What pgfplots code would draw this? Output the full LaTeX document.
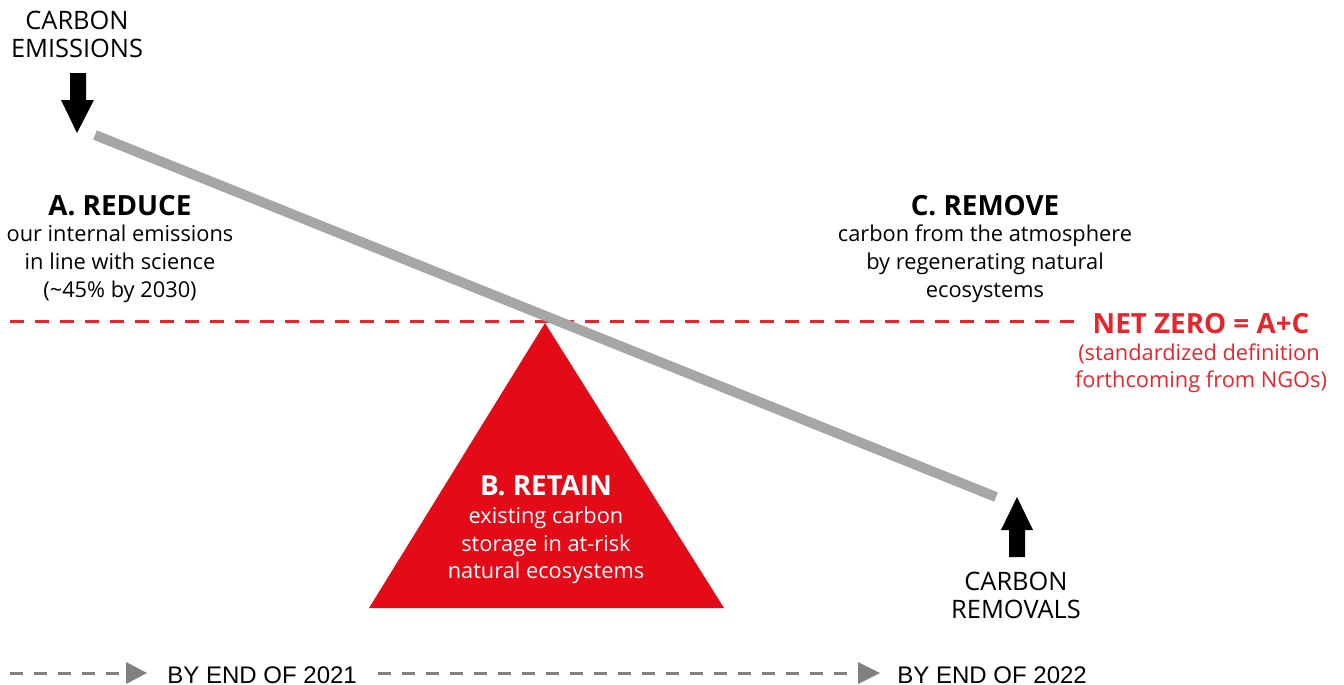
\documentclass[border=0pt]{standalone}
\usepackage{pgfplots}
\pgfplotsset{compat=1.18}
\usepackage{fontspec}
\setmainfont{Open Sans}
\newfontfamily\bottomfont{Liberation Sans}
\definecolor{tri}{HTML}{E30B17}
\definecolor{nz}{HTML}{E5262D}
\definecolor{beam}{HTML}{A6A6A6}
\definecolor{tlgray}{HTML}{808080}
\newcommand{\bodyf}{\fontsize{10.9}{14}\selectfont}
\newcommand{\headf}{\fontsize{13.9}{14}\selectfont\bfseries}
\newcommand{\capf}{\fontsize{12.7}{14}\selectfont}
\begin{document}
\begin{tikzpicture}
\begin{axis}[width=672pt,height=342.5pt,scale only axis,
  xmin=0,xmax=1344,ymin=0,ymax=685,y dir=reverse,
  axis lines=none,clip=false]
\addplot[draw=none] coordinates {(0,0)(1344,685)};
% triangle
\addplot[fill=tri,draw=none] coordinates {(545,323)(369,608)(724,608)} -- cycle;
% red dashed net zero line
\addplot[nz,line width=1.5pt,dash pattern=on 7pt off 5.5pt] coordinates {(10,321)(1075,321)};
% beam
\addplot[beam,line width=5pt] coordinates {(95,135)(996,497)};
% down arrow
\addplot[fill=black,draw=none] coordinates {(70,73)(86,73)(86,100)(94,100)(77,133)(61,100)(70,100)} -- cycle;
% up arrow
\addplot[fill=black,draw=none] coordinates {(1009,557)(1025,557)(1025,530)(1033,530)(1017,497)(1001,530)(1009,530)} -- cycle;
% bottom timeline
\addplot[tlgray,line width=1.5pt,dash pattern=on 6.5pt off 5.5pt] coordinates {(10,673)(126,673)};
\addplot[fill=tlgray,draw=none] coordinates {(126,662)(147,673)(126,684)} -- cycle;
\addplot[tlgray,line width=1.5pt,dash pattern=on 6.5pt off 5.5pt] coordinates {(378,673)(858,673)};
\addplot[fill=tlgray,draw=none] coordinates {(858,662)(880,673)(858,684)} -- cycle;
% texts
\begin{scope}[every node/.style={inner sep=0pt,anchor=base}]
\node[font=\capf] at (axis cs:77,29) {CARBON};
\node[font=\capf] at (axis cs:77,57) {EMISSIONS};
\node[font=\headf] at (axis cs:120,215) {A. REDUCE};
\node[font=\bodyf] at (axis cs:120,241) {our internal emissions};
\node[font=\bodyf] at (axis cs:120,269) {in line with science};
\node[font=\bodyf] at (axis cs:120,297) {(\textasciitilde45\% by 2030)};
\node[font=\headf] at (axis cs:985,215) {C. REMOVE};
\node[font=\bodyf] at (axis cs:985,241) {carbon from the atmosphere};
\node[font=\bodyf] at (axis cs:985,269) {by regenerating natural};
\node[font=\bodyf] at (axis cs:985,297) {ecosystems};
\node[font=\headf,text=nz] at (axis cs:1201,333) {NET ZERO = A+C};
\node[font=\bodyf,text=nz] at (axis cs:1199,360) {(standardized definition};
\node[font=\bodyf,text=nz] at (axis cs:1201,387) {forthcoming from NGOs)};
\node[font=\headf,text=white] at (axis cs:546,495) {B. RETAIN};
\node[font=\bodyf,text=white] at (axis cs:546,523) {existing carbon};
\node[font=\bodyf,text=white] at (axis cs:546,551) {storage in at-risk};
\node[font=\bodyf,text=white] at (axis cs:546,578) {natural ecosystems};
\node[font=\capf] at (axis cs:1016,590) {CARBON};
\node[font=\capf] at (axis cs:1016,618) {REMOVALS};
\node[font=\bottomfont\fontsize{12}{14}\selectfont,anchor=base west] at (axis cs:167,683) {BY END OF 2021};
\node[font=\bottomfont\fontsize{12}{14}\selectfont,anchor=base west] at (axis cs:897,683) {BY END OF 2022};
\end{scope}
\end{axis}
\end{tikzpicture}
\end{document}
